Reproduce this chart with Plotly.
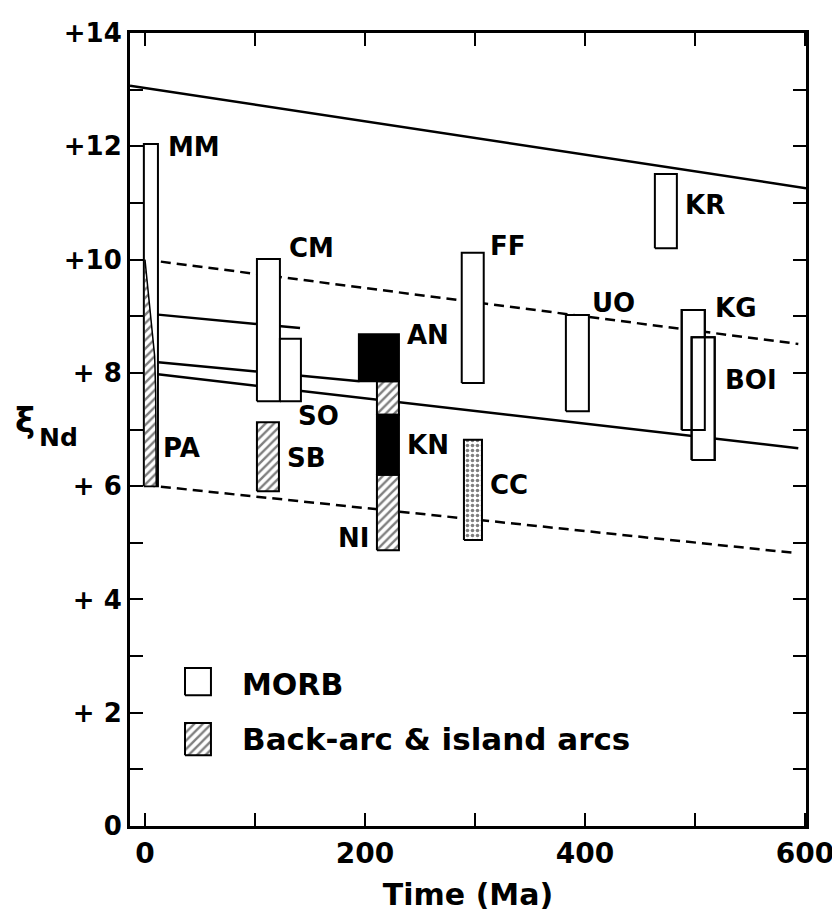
import plotly.graph_objects as go

# ---------------- data (time in Ma, epsilon Nd) ----------------
# reference lines
solid_top_t = [-13.6, 601]
solid_top_e = [13.07, 11.26]
dash_top_t = [0, 594]
dash_top_e = [10.0, 8.51]
solid_a_t = [0, 141]
solid_a_e = [9.05, 8.79]
solid_b_t = [0, 195]
solid_b_e = [8.21, 7.85]
solid_c_t = [0, 594]
solid_c_e = [8.0, 6.67]
dash_bot_t = [0, 591]
dash_bot_e = [6.02, 4.82]

# MORB ranges (open boxes)
morb_names = ["MM", "CM", "SO", "FF", "UO", "KG", "BOI", "KR"]
morb_t0 = [-1.0, 101.8, 122.7, 288.0, 382.7, 488.0, 497.0, 463.6]
morb_t1 = [11.8, 122.7, 141.8, 308.0, 403.6, 509.0, 518.0, 483.6]
morb_lo = [6.0, 7.5, 7.5, 7.82, 7.32, 6.99, 6.46, 10.2]
morb_hi = [12.04, 10.01, 8.6, 10.12, 9.02, 9.11, 8.63, 11.51]

# back-arc & island arcs (hatched)
arc_names = ["SB", "NI", "NI-upper"]
arc_t0 = [101.8, 210.9, 210.9]
arc_t1 = [121.8, 230.9, 230.9]
arc_lo = [5.91, 4.87, 7.26]
arc_hi = [7.13, 6.20, 7.85]

# PA wedge (hatched polygon)
pa_t = [0, 2.7, 5.2, 8.8, 9.7, 10.3, 0]
pa_e = [10.0, 9.47, 9.0, 8.3, 7.7, 6.0, 6.0]

# black ranges
black_names = ["AN", "KN"]
black_t0 = [194.5, 210.9]
black_t1 = [230.9, 230.9]
black_lo = [7.85, 6.20]
black_hi = [8.68, 7.26]

# stippled range
cc_t0, cc_t1, cc_lo, cc_hi = 290.0, 306.4, 5.05, 6.82

# labels
label_text = ["MM", "CM", "FF", "SO", "SB", "PA", "NI", "KN", "AN", "CC", "UO", "KG", "BOI", "KR"]
label_t = [19, 129, 312, 137, 127, 14.5, 205.5, 236, 236, 312, 405, 516, 525.5, 489]
label_e = [11.98, 10.2, 10.24, 7.24, 6.5, 6.67, 5.08, 6.73, 8.67, 6.02, 9.23, 9.15, 7.87, 10.97]
label_anchor = ["left"] * 6 + ["right"] + ["left"] * 7

x_tickvals = [0, 100, 200, 300, 400, 500, 600]
x_ticktext = ["0", "", "200", "", "400", "", "600"]
y_tickvals = list(range(0, 15))
y_ticktext = ["0", "", "+ 2", "", "+ 4", "", "+ 6", "", "+ 8", "", "+10", "", "+12", "", "+14"]

FONT = "DejaVu Sans"


def rect(t0, t1, lo, hi):
    return [t0, t1, t1, t0, t0], [lo, lo, hi, hi, lo]


fig = go.Figure()

# lines
for t, e, dash in [
    (solid_top_t, solid_top_e, "solid"),
    (dash_top_t, dash_top_e, "10px,6px"),
    (solid_a_t, solid_a_e, "solid"),
    (solid_b_t, solid_b_e, "solid"),
    (solid_c_t, solid_c_e, "solid"),
    (dash_bot_t, dash_bot_e, "10px,6px"),
]:
    fig.add_trace(go.Scatter(x=t, y=e, mode="lines",
                             line=dict(color="black", width=2.5, dash=dash),
                             hoverinfo="skip", showlegend=False))

# MORB boxes (white fill)
for i in range(len(morb_names)):
    xs, ys = rect(morb_t0[i], morb_t1[i], morb_lo[i], morb_hi[i])
    fig.add_trace(go.Scatter(x=xs, y=ys, mode="lines", fill="toself",
                             fillcolor="white", line=dict(color="black", width=2),
                             hoverinfo="skip", showlegend=False))

HATCH = dict(shape="/", fgcolor="black", bgcolor="white", size=6, solidity=0.4)

# PA wedge
fig.add_trace(go.Scatter(x=pa_t, y=pa_e, mode="lines", fill="toself",
                         fillpattern=HATCH,
                         line=dict(color="black", width=1.5),
                         hoverinfo="skip", showlegend=False))

# hatched arcs
for i in range(len(arc_names)):
    xs, ys = rect(arc_t0[i], arc_t1[i], arc_lo[i], arc_hi[i])
    fig.add_trace(go.Scatter(x=xs, y=ys, mode="lines", fill="toself",
                             fillpattern=HATCH,
                             line=dict(color="black", width=2),
                             hoverinfo="skip", showlegend=False))

# black
for i in range(len(black_names)):
    xs, ys = rect(black_t0[i], black_t1[i], black_lo[i], black_hi[i])
    fig.add_trace(go.Scatter(x=xs, y=ys, mode="lines", fill="toself",
                             fillcolor="black", line=dict(color="black", width=2),
                             hoverinfo="skip", showlegend=False))

# stippled
xs, ys = rect(cc_t0, cc_t1, cc_lo, cc_hi)
fig.add_trace(go.Scatter(x=xs, y=ys, mode="lines", fill="toself",
                         fillpattern=dict(shape=".", fgcolor="black", bgcolor="white",
                                          size=5, solidity=0.4),
                         line=dict(color="black", width=2),
                         hoverinfo="skip", showlegend=False))

# redraw overlapping MORB outlines so both stay visible
for i in [5, 6]:
    xs, ys = rect(morb_t0[i], morb_t1[i], morb_lo[i], morb_hi[i])
    fig.add_trace(go.Scatter(x=xs, y=ys, mode="lines",
                             line=dict(color="black", width=2),
                             hoverinfo="skip", showlegend=False))

# legend symbols (drawn in data space)
xs, ys = rect(36.4, 60.0, 2.31, 2.79)
fig.add_trace(go.Scatter(x=xs, y=ys, mode="lines", fill="toself", fillcolor="white",
                         line=dict(color="black", width=2), hoverinfo="skip", showlegend=False))
xs, ys = rect(36.4, 60.0, 1.25, 1.82)
fig.add_trace(go.Scatter(x=xs, y=ys, mode="lines", fill="toself",
                         fillpattern=HATCH,
                         line=dict(color="black", width=2), hoverinfo="skip", showlegend=False))

annotations = []
for txt, t, e, anc in zip(label_text, label_t, label_e, label_anchor):
    annotations.append(dict(x=t, y=e, xref="x", yref="y", text=txt, showarrow=False,
                            xanchor=anc, yanchor="middle",
                            font=dict(family=FONT, size=26, color="black", weight="bold")))

annotations.append(dict(x=86.4, y=2.49, xref="x", yref="y", text="MORB", showarrow=False,
                        xanchor="left", yanchor="middle",
                        font=dict(family=FONT, size=30, color="black", weight="bold")))
annotations.append(dict(x=86.4, y=1.54, xref="x", yref="y", text="Back-arc & island arcs",
                        showarrow=False, xanchor="left", yanchor="middle",
                        font=dict(family=FONT, size=31, color="black", weight="bold")))

# y axis label  ξ_Nd
annotations.append(dict(x=-0.156, y=0.512, xref="paper", yref="paper", text="ξ",
                        showarrow=False, xanchor="center", yanchor="middle",
                        font=dict(family=FONT, size=34, color="black", weight="bold")))
annotations.append(dict(x=-0.106, y=0.490, xref="paper", yref="paper", text="Nd",
                        showarrow=False, xanchor="center", yanchor="middle",
                        font=dict(family=FONT, size=25, color="black", weight="bold")))

fig.update_layout(
    width=840, height=917,
    margin=dict(l=122, r=42, t=25, b=99),
    paper_bgcolor="white", plot_bgcolor="white",
    annotations=annotations,
    xaxis=dict(range=[-13.6, 601], tickvals=x_tickvals, ticktext=x_ticktext,
               ticks="inside", ticklen=13, tickwidth=2, tickcolor="black",
               showline=True, linewidth=3, linecolor="black", mirror="ticks",
               showgrid=False, zeroline=False, automargin=False,
               tickfont=dict(family=FONT, size=28, color="black", weight="bold"),
               title=dict(text="Time (Ma)", standoff=16,
                          font=dict(family=FONT, size=30, color="black", weight="bold"))),
    yaxis=dict(range=[0, 14], tickvals=y_tickvals, ticktext=y_ticktext,
               ticks="inside", ticklen=13, tickwidth=2, tickcolor="black",
               showline=True, linewidth=3, linecolor="black", mirror="ticks",
               showgrid=False, zeroline=False, automargin=False,
               tickfont=dict(family=FONT, size=26, color="black", weight="bold")),
)

fig.write_html("out.html")
